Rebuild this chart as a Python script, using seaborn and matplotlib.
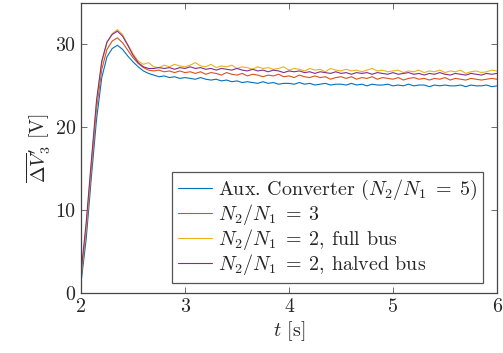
import numpy as np
import pandas as pd
import matplotlib
matplotlib.use("Agg")
import matplotlib.pyplot as plt
import seaborn as sns

# ---------------- data ----------------
t = np.round(np.linspace(2.0, 6.0, 81), 3)

aux_conv = [
    1.2, 6.5, 14.0, 21.0, 26.0, 28.5, 29.5, 29.9, 29.4, 28.6,
    27.9, 27.3, 26.8, 26.5, 26.3, 26.1, 26.2, 26.0, 26.1, 25.9,
    26.0, 25.9, 25.8, 26.0, 25.8, 25.7, 25.8, 25.6, 25.7, 25.5,
    25.6, 25.4, 25.5, 25.4, 25.3, 25.5, 25.3, 25.4, 25.2, 25.3,
    25.3, 25.2, 25.4, 25.2, 25.3, 25.1, 25.2, 25.3, 25.1, 25.2,
    25.2, 25.1, 25.3, 25.1, 25.2, 25.0, 25.2, 25.1, 25.1, 25.2,
    25.0, 25.1, 25.0, 25.2, 25.0, 25.1, 25.1, 24.9, 25.1, 25.0,
    25.1, 25.0, 25.0, 25.1, 24.9, 25.1, 25.0, 25.0, 25.1, 24.9,
    25.0,
]

ratio3 = [
    1.8, 7.5, 15.0, 22.3, 27.0, 29.4, 30.4, 30.8, 30.2, 29.3,
    28.4, 27.7, 27.2, 26.9, 26.8, 26.9, 26.7, 26.8, 26.6, 26.8,
    26.6, 26.7, 26.5, 26.7, 26.4, 26.6, 26.5, 26.3, 26.6, 26.4,
    26.3, 26.5, 26.2, 26.4, 26.3, 26.1, 26.3, 26.2, 26.4, 26.1,
    26.2, 26.0, 26.3, 26.1, 26.0, 26.2, 26.0, 26.1, 25.8, 26.0,
    26.1, 25.9, 26.1, 25.8, 26.0, 25.9, 26.1, 25.8, 26.0, 25.9,
    25.8, 26.0, 25.7, 25.9, 26.0, 25.8, 25.9, 25.7, 25.9, 25.8,
    26.0, 25.7, 25.9, 25.8, 25.7, 25.9, 25.8, 25.7, 25.8, 25.9,
    25.8,
]

ratio2_full = [
    2.0, 8.0, 15.6, 23.0, 27.8, 30.2, 31.3, 31.8, 31.2, 30.0,
    28.9, 28.0, 27.6, 27.8, 27.3, 27.2, 27.5, 27.3, 27.6, 27.4,
    27.3, 27.5, 27.8, 27.4, 27.3, 27.6, 27.2, 27.4, 27.3, 27.5,
    27.1, 27.3, 27.2, 27.0, 27.3, 27.1, 27.2, 27.0, 27.1, 27.3,
    26.9, 27.1, 27.0, 26.8, 27.1, 26.9, 27.0, 26.7, 27.1, 26.9,
    26.8, 27.0, 26.8, 26.9, 26.7, 26.9, 27.1, 26.8, 26.9, 26.7,
    26.8, 26.9, 26.6, 26.8, 26.7, 26.9, 26.6, 26.8, 26.7, 26.9,
    26.6, 26.8, 26.7, 26.9, 26.5, 26.7, 26.8, 26.6, 26.7, 26.9,
    26.8,
]

ratio2_halved = [
    2.4, 8.5, 16.0, 23.3, 28.0, 30.3, 31.2, 31.6, 31.0, 29.9,
    28.7, 27.8, 27.3, 27.1, 27.1, 27.2, 27.1, 27.2, 27.0, 27.2,
    27.1, 27.3, 27.1, 27.2, 27.0, 27.1, 26.9, 27.1, 27.0, 26.9,
    27.1, 26.9, 26.8, 27.0, 26.8, 26.9, 26.7, 26.9, 26.8, 26.6,
    26.8, 26.7, 26.8, 26.6, 26.7, 26.5, 26.7, 26.6, 26.5, 26.7,
    26.5, 26.6, 26.4, 26.6, 26.5, 26.6, 26.4, 26.6, 26.5, 26.4,
    26.6, 26.4, 26.5, 26.6, 26.4, 26.5, 26.3, 26.5, 26.4, 26.6,
    26.4, 26.3, 26.5, 26.4, 26.3, 26.5, 26.4, 26.3, 26.5, 26.4,
    26.5,
]

labels = [
    r"Aux. Converter ($N_2/N_1 \;=\; 5$)",
    r"$N_2/N_1 \;=\; 3$",
    r"$N_2/N_1 \;=\; 2$, full bus",
    r"$N_2/N_1 \;=\; 2$, halved bus",
]
series = [aux_conv, ratio3, ratio2_full, ratio2_halved]
colors = ["#0072BD", "#D95319", "#EDB120", "#7E2F8E"]

x_ticks = [2, 3, 4, 5, 6]
y_ticks = [0, 10, 20, 30]

# ---------------- style ----------------
sns.set_style("ticks")
plt.rcParams["font.family"] = ["cmr10", "DejaVu Serif"]
plt.rcParams["mathtext.fontset"] = "cm"
plt.rcParams["axes.formatter.use_mathtext"] = True

FS = 14.4

df = pd.concat(
    [pd.DataFrame({"t": t, "v": s, "series": lab}) for s, lab in zip(series, labels)],
    ignore_index=True,
)

fig = plt.figure(figsize=(5.03, 3.53), dpi=100)
ax = fig.add_axes([0.161, 0.170, 0.827, 0.8215])

sns.lineplot(
    data=df, x="t", y="v", hue="series", hue_order=labels,
    palette=colors, linewidth=0.8, ax=ax, legend=False, estimator=None,
)

ax.set_xlim(2, 6)
ax.set_ylim(0, 35)
ax.set_xticks(x_ticks)
ax.set_yticks(y_ticks)
ax.set_xticklabels([str(v) for v in x_ticks])
ax.set_yticklabels([str(v) for v in y_ticks])

ax.tick_params(direction="in", top=True, right=True, length=4, width=0.6,
               color="#555555", labelsize=FS, pad=4)
for sp in ax.spines.values():
    sp.set_color("#444444")
    sp.set_linewidth(0.9)
    sp.set_visible(True)

ax.set_xlabel(r"$t$ [s]", fontsize=FS, labelpad=2)
ax.set_ylabel(r"$\overline{\mathit{\Delta} V}^{\prime}_{3}$ [V]", fontsize=FS, labelpad=2)

handles = [plt.Line2D([], [], color=c, lw=0.8) for c in colors]
leg = ax.legend(handles, labels, loc="lower right", fontsize=FS,
                bbox_to_anchor=(0.966, 0.0345),
                frameon=True, fancybox=False, framealpha=1,
                handlelength=1.7, handletextpad=0.3, borderpad=0.3,
                labelspacing=0.0, borderaxespad=0.0)
leg.get_frame().set_edgecolor("#555555")
leg.get_frame().set_linewidth(0.9)

fig.savefig("out.png", dpi=100)
